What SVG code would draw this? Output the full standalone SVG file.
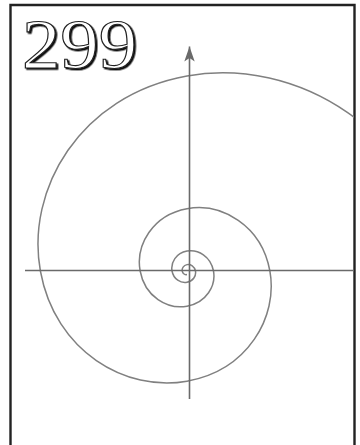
<svg xmlns="http://www.w3.org/2000/svg" width="360" height="445" viewBox="0 0 360 445">
  <style>
    .frame { fill: none; stroke: #222; stroke-width: 2.4; }
    .axis { fill: none; stroke: #6a6a6a; stroke-width: 1.6; }
    .spiral { fill: none; stroke: #808080; stroke-width: 1.5; }
    .num { font-family: "Liberation Serif", "DejaVu Serif", serif; font-size: 70px; }
  </style>
  <defs>
    <marker id="arrow" markerUnits="userSpaceOnUse" markerWidth="16" markerHeight="16" refX="15" refY="6" orient="auto">
      <path d="M0,0.8 L15,6 L0,11.2 L3.5,6 Z" fill="#6a6a6a"/>
    </marker>
    <clipPath id="inside">
      <rect x="11" y="6" width="343" height="440"/>
    </clipPath>
    <filter id="engrave" x="-10%" y="-10%" width="130%" height="130%">
      <feDropShadow dx="1.5" dy="1.4" stdDeviation="0" flood-color="#111" flood-opacity="1"/>
    </filter>
  </defs>
  <rect width="360" height="445" fill="#fff"/>
  <g id="frame">
    <path class="frame" d="M10.5,446 V5 H354.5 V446"/>
  </g>
  <g id="title">
    <text class="num" x="22" y="68" textLength="115" lengthAdjust="spacingAndGlyphs" fill="#fff" stroke="#222" stroke-width="1.1" filter="url(#engrave)">299</text>
  </g>
  <g id="spiral" clip-path="url(#inside)">
    <path class="spiral" d="M446.35,271 C420.34,127.76 294.70,56.44 187,76 C79.30,95.56 25.67,190.02 40.38,271 C55.09,351.98 126.11,392.30 187,381.24 C247.89,370.18 278.20,316.78 269.89,271 C261.58,225.22 221.42,202.43 187,208.68 C152.58,214.93 135.44,245.12 140.14,271 C144.84,296.88 167.54,309.76 187,306.23 C206.46,302.70 216.15,285.63 213.49,271 C210.83,256.37 198.00,249.08 187,251.08 C176.00,253.08 170.53,262.73 172.03,271 C173.53,279.27 180.78,283.39 187,282.26 C193.22,281.13 196.32,275.68 195.47,271 C194.62,266.32 190.52,263.99 187,264.63 C183.48,265.27 181.73,268.35 182.21,271 C182.69,273.65 185.01,274.96 187,274.60"/>
  </g>
  <g id="connectors">
    <line class="axis" x1="25" y1="270.5" x2="354" y2="270.5"/>
    <line class="axis" x1="189.5" y1="399" x2="189.5" y2="46.5" marker-end="url(#arrow)"/>
  </g>
</svg>
